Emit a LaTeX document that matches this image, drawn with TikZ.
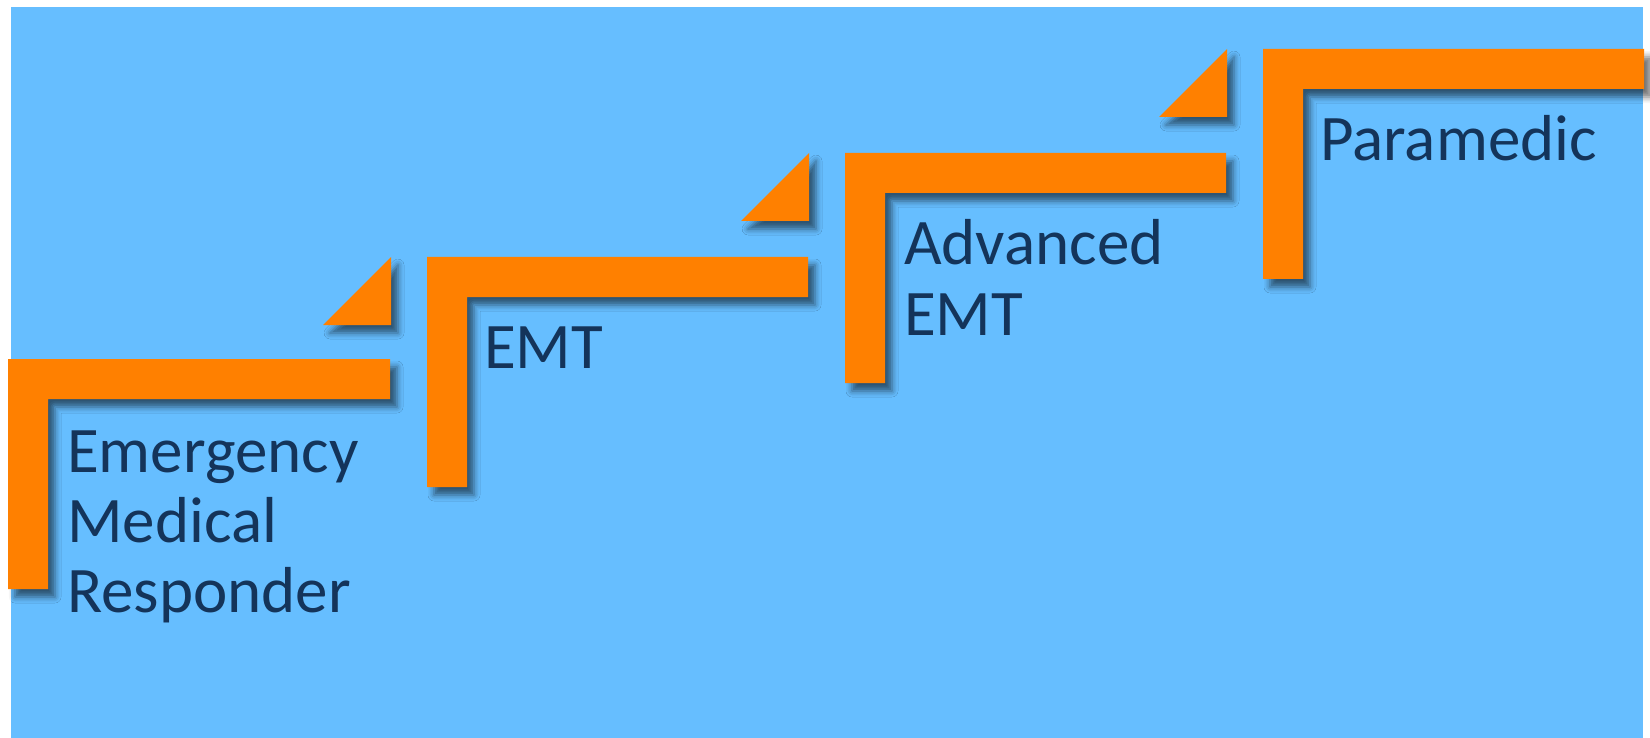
\documentclass[tikz,border=0pt]{standalone}
\usepackage{fontspec}
\setmainfont{Carlito}
\usetikzlibrary{shadows.blur}
\definecolor{bgblue}{RGB}{102,190,255}
\definecolor{steporange}{RGB}{255,128,0}
\definecolor{textnavy}{RGB}{20,52,90}
\newcommand\ladderstep[3]{% left, top, right
  \fill[stepshape] (#1,#2) -- (#3,#2) -- (#3,#2+40) -- (#1+40,#2+40) -- (#1+40,#2+230) -- (#1,#2+230) -- cycle;}
\newcommand\laddertri[2]{% right, top
  \fill[stepshape] (#1,#2) -- (#1,#2+68) -- (#1-68,#2+68) -- cycle;}
\begin{document}
\begin{tikzpicture}[x=1pt,y=-1pt,
  stepshape/.style={fill=steporange, blur shadow={shadow xshift=7pt, shadow yshift=-8pt, shadow blur radius=6pt, shadow opacity=55}},
  steplabel/.style={anchor=base west, inner sep=0pt, text=textnavy, font=\fontsize{65}{70}\selectfont}]
\useasboundingbox (0,0) rectangle (1650,738);
\fill[bgblue] (11,7) rectangle (1643,738);
% steps
\ladderstep{8}{359}{390}
\ladderstep{427}{257}{808}
\ladderstep{845}{153}{1226}
\ladderstep{1263}{49}{1644}
% triangles
\laddertri{391}{257}
\laddertri{809}{153}
\laddertri{1227}{49}
% labels
\node[steplabel] (emr1) at (67,472) {Emergency};
\node[steplabel] (emr2) at (67,542) {Medical};
\node[steplabel] (emr3) at (67,612) {Responder};
\node[steplabel] (emt) at (484,368) {EMT};
\node[steplabel] (aemt1) at (904,265) {Advanced};
\node[steplabel] (aemt2) at (904,335) {EMT};
\node[steplabel] (para) at (1320,161) {Paramedic};
\end{tikzpicture}
\end{document}
